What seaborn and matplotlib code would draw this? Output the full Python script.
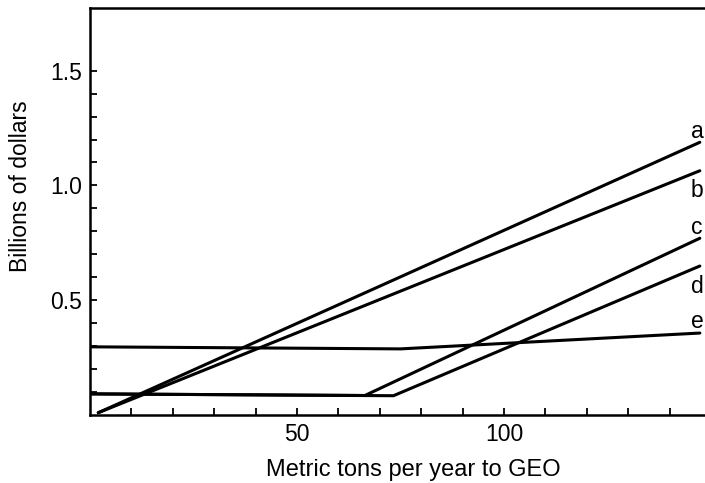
import numpy as np
import pandas as pd
import matplotlib
matplotlib.use("Agg")
import matplotlib.pyplot as plt
import seaborn as sns
from matplotlib.ticker import FixedLocator, FixedFormatter

# ---- data ----
a_x = [2.0, 147.3]
a_y = [0.01, 1.188]
b_x = [2.0, 147.3]
b_y = [0.01, 1.064]
c_x = [0.0, 66.4, 147.3]
c_y = [0.092, 0.085, 0.770]
d_x = [0.0, 73.3, 147.3]
d_y = [0.092, 0.084, 0.649]
e_x = [0.0, 75.0, 147.3]
e_y = [0.297, 0.288, 0.357]
series_names = ["a", "b", "c", "d", "e"]
x_ticks = [50, 100]
y_ticks = [0.5, 1.0, 1.5]
y_ticklabels = ["0.5", "1.0", "1.5"]

sns.set_style("ticks")
plt.rcParams["font.family"] = ["Liberation Sans", "DejaVu Sans"]
plt.rcParams["text.color"] = "black"
plt.rcParams["axes.labelcolor"] = "black"
plt.rcParams["xtick.color"] = "black"
plt.rcParams["ytick.color"] = "black"

rows = []
for name, xs, ys in zip(series_names, [a_x, b_x, c_x, d_x, e_x], [a_y, b_y, c_y, d_y, e_y]):
    for i, (x, y) in enumerate(zip(xs, ys)):
        rows.append({"series": name, "order": i, "x": x, "y": y})
df = pd.DataFrame(rows)

fig = plt.figure(figsize=(7.05, 4.83), dpi=100)
ax = fig.add_axes([90 / 705, 68 / 483, 615 / 705, 407 / 483])

sns.lineplot(data=df, x="x", y="y", hue="series", units="series", estimator=None,
             sort=False, palette={n: "black" for n in series_names}, legend=False,
             linewidth=2.2, ax=ax)

ax.set_xlim(0, 148.55)
ax.set_ylim(0, 1.773)

ax.xaxis.set_major_locator(FixedLocator(x_ticks))
ax.xaxis.set_major_formatter(FixedFormatter([str(t) for t in x_ticks]))
ax.xaxis.set_minor_locator(FixedLocator([t for t in range(10, 150, 10) if t not in x_ticks]))
ax.yaxis.set_major_locator(FixedLocator(y_ticks))
ax.yaxis.set_major_formatter(FixedFormatter(y_ticklabels))
ax.yaxis.set_minor_locator(FixedLocator([round(v, 1) for v in np.arange(0.1, 1.45, 0.1)
                                         if round(v, 1) not in y_ticks]))

ax.tick_params(which="both", direction="in", length=5, width=1.3, colors="black")
ax.tick_params(axis="both", which="major", labelsize=16.5, pad=6, labelcolor="black")

for side in ["left", "bottom", "top"]:
    ax.spines[side].set_linewidth(1.8)
    ax.spines[side].set_color("black")
ax.spines["right"].set_visible(False)

ax.set_xlabel("Metric tons per year to GEO", fontsize=17, color="black")
ax.set_ylabel("Billions of dollars", fontsize=16.5, color="black")
ax.xaxis.set_label_coords(0.525, -0.108)
ax.yaxis.set_label_coords(-0.094, 0.561)

# curve labels at the line ends, alternating above / below
offsets = {"a": 7.5, "b": -14, "c": 8, "d": -15, "e": 8.5}
for name, xs, ys in zip(series_names, [a_x, b_x, c_x, d_x, e_x], [a_y, b_y, c_y, d_y, e_y]):
    ax.annotate(name, xy=(xs[-1], ys[-1]), xytext=(-2, offsets[name]),
                textcoords="offset points", ha="center", va="center", fontsize=16.5,
                color="black", annotation_clip=False)

fig.savefig("out.png", dpi=100, facecolor="white")
